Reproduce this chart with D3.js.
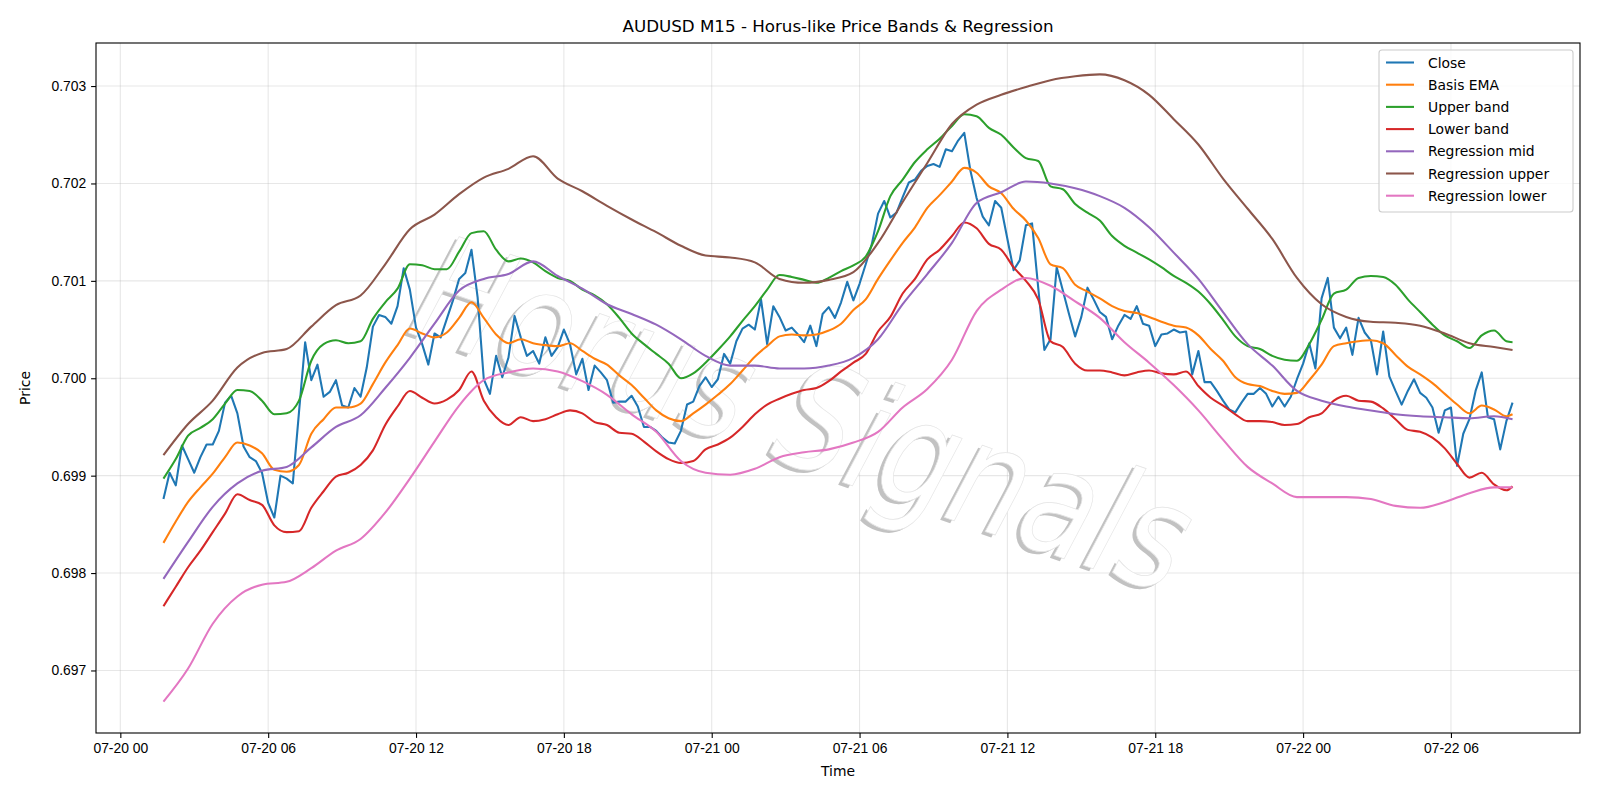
<!DOCTYPE html>
<meta charset="utf-8">
<style>
body { margin: 0; background: #fff; }
svg { font-family: "DejaVu Sans", sans-serif; }
.axis text { font-size: 13.9px; fill: #000; }
.axis line { stroke: #000; stroke-width: 1.1; }
.grid line { stroke: #b0b0b0; stroke-opacity: 0.3; stroke-width: 1.1; }
.series { fill: none; stroke-width: 2.08; stroke-linejoin: round; }
.legend text { font-size: 13.9px; }
</style>
<svg width="1600" height="800"></svg>
<script src="https://d3js.org/d3.v7.min.js"></script>
<script>

// M15 bars, first bar 07-20 01:45
const startTime = new Date(2025, 6, 20, 1, 45);
const barMinutes = 15;

const close = [
	0.69876,0.69903,0.69890,0.69931,0.69917,0.69903,0.69919,0.69932,0.69932,0.69946,
	0.69975,0.69982,0.69964,0.69930,0.69919,0.69915,0.69903,0.69872,0.69857,0.69900,
	0.69897,0.69892,0.69965,0.70037,0.69998,0.70014,0.69981,0.69986,0.69998,0.69972,
	0.69970,0.69990,0.69981,0.70011,0.70053,0.70065,0.70063,0.70056,0.70074,0.70113,
	0.70091,0.70052,0.70035,0.70014,0.70046,0.70042,0.70061,0.70080,0.70102,0.70108,
	0.70132,0.70083,0.69999,0.69984,0.70023,0.70001,0.70021,0.70064,0.70042,0.70023,
	0.70028,0.70015,0.70042,0.70023,0.70032,0.70050,0.70035,0.70004,0.70020,0.69988,
	0.70013,0.70006,0.69998,0.69975,0.69976,0.69976,0.69982,0.69971,0.69950,0.69950,
	0.69946,0.69939,0.69934,0.69933,0.69946,0.69973,0.69976,0.69992,0.70001,0.69991,
	0.69999,0.70025,0.70015,0.70038,0.70051,0.70055,0.70050,0.70081,0.70035,0.70074,
	0.70063,0.70049,0.70052,0.70045,0.70037,0.70054,0.70033,0.70066,0.70073,0.70062,
	0.70078,0.70099,0.70080,0.70097,0.70117,0.70138,0.70169,0.70182,0.70165,0.70170,
	0.70186,0.70201,0.70204,0.70213,0.70218,0.70220,0.70217,0.70235,0.70233,0.70244,
	0.70252,0.70213,0.70185,0.70166,0.70157,0.70182,0.70175,0.70143,0.70111,0.70121,
	0.70157,0.70159,0.70093,0.70029,0.70040,0.70114,0.70090,0.70066,0.70043,0.70063,
	0.70093,0.70081,0.70068,0.70063,0.70040,0.70054,0.70065,0.70061,0.70074,0.70056,
	0.70054,0.70033,0.70045,0.70046,0.70050,0.70047,0.70048,0.70004,0.70028,0.69996,
	0.69996,0.69987,0.69977,0.69968,0.69965,0.69975,0.69984,0.69984,0.69990,0.69984,
	0.69971,0.69981,0.69971,0.69981,0.69999,0.70015,0.70036,0.70010,0.70082,0.70103,
	0.70052,0.70041,0.70052,0.70024,0.70062,0.70047,0.70039,0.70004,0.70048,0.70002,
	0.69987,0.69973,0.69987,0.69999,0.69985,0.69980,0.69970,0.69944,0.69967,0.69970,
	0.69910,0.69943,0.69958,0.69987,0.70006,0.69960,0.69958,0.69927,0.69956,0.69975
];

// band lines read every second bar, plus the last one
const bandBars = d3.range(0, 220, 2).concat([219]);

const basisEma = [
	0.69831,0.69853,0.69873,0.69888,0.69902,0.69919,0.69934,0.69931,0.69923,0.69906,
	0.69904,0.69911,0.69943,0.69958,0.69970,0.69970,0.69974,0.69994,0.70016,0.70034,
	0.70051,0.70046,0.70042,0.70047,0.70062,0.70078,0.70062,0.70045,0.70036,0.70040,
	0.70036,0.70034,0.70033,0.70036,0.70028,0.70020,0.70014,0.70003,0.69993,0.69980,
	0.69967,0.69959,0.69956,0.69964,0.69973,0.69983,0.69994,0.70008,0.70022,0.70033,
	0.70043,0.70045,0.70044,0.70045,0.70049,0.70056,0.70070,0.70081,0.70102,0.70121,
	0.70139,0.70155,0.70175,0.70188,0.70202,0.70216,0.70211,0.70197,0.70190,0.70174,
	0.70162,0.70144,0.70117,0.70113,0.70096,0.70089,0.70082,0.70074,0.70069,0.70067,
	0.70063,0.70058,0.70054,0.70052,0.70044,0.70030,0.70018,0.70001,0.69994,0.69992,
	0.69987,0.69984,0.69985,0.69998,0.70014,0.70033,0.70036,0.70038,0.70039,0.70036,
	0.70024,0.70012,0.70004,0.69995,0.69984,0.69973,0.69964,0.69972,0.69968,0.69961,
	0.69963
];

const upperBand = [
	0.69897,0.69917,0.69941,0.69949,0.69958,0.69974,0.69988,0.69987,0.69977,0.69963,
	0.69964,0.69977,0.70018,0.70035,0.70039,0.70036,0.70038,0.70061,0.70078,0.70092,
	0.70117,0.70116,0.70112,0.70112,0.70130,0.70149,0.70151,0.70132,0.70120,0.70123,
	0.70119,0.70110,0.70103,0.70100,0.70091,0.70085,0.70076,0.70062,0.70046,0.70035,
	0.70025,0.70015,0.70000,0.70005,0.70016,0.70029,0.70043,0.70059,0.70074,0.70091,
	0.70106,0.70104,0.70101,0.70098,0.70103,0.70110,0.70116,0.70125,0.70151,0.70187,
	0.70204,0.70222,0.70235,0.70246,0.70259,0.70271,0.70269,0.70257,0.70250,0.70237,
	0.70226,0.70223,0.70197,0.70194,0.70179,0.70170,0.70162,0.70146,0.70136,0.70129,
	0.70122,0.70114,0.70105,0.70098,0.70089,0.70076,0.70060,0.70043,0.70033,0.70030,
	0.70023,0.70019,0.70018,0.70035,0.70060,0.70087,0.70091,0.70103,0.70105,0.70104,
	0.70096,0.70081,0.70068,0.70055,0.70044,0.70038,0.70031,0.70044,0.70049,0.70038,
	0.70037
];

const lowerBand = [
	0.69766,0.69786,0.69806,0.69823,0.69842,0.69861,0.69881,0.69875,0.69870,0.69849,
	0.69842,0.69843,0.69867,0.69884,0.69899,0.69903,0.69911,0.69926,0.69952,0.69971,
	0.69987,0.69980,0.69974,0.69978,0.69988,0.70007,0.69977,0.69960,0.69952,0.69960,
	0.69956,0.69958,0.69963,0.69967,0.69964,0.69955,0.69952,0.69944,0.69943,0.69935,
	0.69925,0.69917,0.69913,0.69915,0.69927,0.69932,0.69939,0.69950,0.69963,0.69973,
	0.69979,0.69984,0.69988,0.69990,0.69997,0.70007,0.70016,0.70025,0.70048,0.70063,
	0.70087,0.70102,0.70122,0.70132,0.70146,0.70160,0.70154,0.70138,0.70132,0.70114,
	0.70100,0.70081,0.70038,0.70032,0.70015,0.70008,0.70008,0.70006,0.70003,0.70006,
	0.70008,0.70005,0.70004,0.70007,0.69992,0.69980,0.69972,0.69963,0.69956,0.69956,
	0.69955,0.69952,0.69953,0.69960,0.69964,0.69977,0.69982,0.69977,0.69976,0.69969,
	0.69958,0.69947,0.69945,0.69939,0.69928,0.69912,0.69898,0.69903,0.69891,0.69885,
	0.69889
];

// regression channel read every hour, plus the last bar
const regBars = d3.range(0, 220, 4).concat([219]);

const regMid = [
	0.69794,0.69832,0.69868,0.69892,0.69905,0.69909,0.69929,0.69950,0.69962,0.69990,
	0.70021,0.70056,0.70090,0.70102,0.70107,0.70120,0.70105,0.70092,0.70076,0.70066,
	0.70055,0.70040,0.70023,0.70013,0.70013,0.70010,0.70010,0.70013,0.70021,0.70040,
	0.70076,0.70107,0.70139,0.70180,0.70191,0.70202,0.70200,0.70195,0.70187,0.70175,
	0.70155,0.70129,0.70102,0.70068,0.70035,0.70013,0.69987,0.69977,0.69971,0.69967,
	0.69963,0.69961,0.69960,0.69959,0.69961,
	0.69958
];

const regUpper = [
	0.69921,0.69953,0.69977,0.70011,0.70026,0.70030,0.70053,0.70075,0.70085,0.70117,
	0.70153,0.70168,0.70189,0.70206,0.70215,0.70228,0.70205,0.70192,0.70177,0.70163,
	0.70150,0.70136,0.70126,0.70124,0.70119,0.70102,0.70098,0.70101,0.70109,0.70139,
	0.70181,0.70221,0.70261,0.70281,0.70291,0.70299,0.70306,0.70310,0.70312,0.70306,
	0.70291,0.70266,0.70240,0.70205,0.70174,0.70143,0.70103,0.70076,0.70063,0.70058,
	0.70057,0.70054,0.70046,0.70036,0.70032,
	0.70029
];

const regLower = [
	0.69668,0.69702,0.69748,0.69776,0.69788,0.69791,0.69805,0.69823,0.69835,0.69862,
	0.69897,0.69935,0.69972,0.69998,0.70006,0.70010,0.70007,0.69997,0.69983,0.69963,
	0.69945,0.69915,0.69903,0.69901,0.69907,0.69919,0.69924,0.69927,0.69934,0.69945,
	0.69970,0.69989,0.70019,0.70069,0.70091,0.70103,0.70095,0.70079,0.70062,0.70037,
	0.70016,0.69993,0.69967,0.69937,0.69909,0.69892,0.69878,0.69878,0.69878,0.69876,
	0.69869,0.69867,0.69873,0.69882,0.69888,
	0.69888
];

const seriesNames = ["Close", "Basis EMA", "Upper band", "Lower band",
	"Regression mid", "Regression upper", "Regression lower"];
const seriesColors = ["#1f77b4", "#ff7f0e", "#2ca02c", "#d62728", "#9467bd", "#8c564b", "#e377c2"];
const yTicks = [0.697, 0.698, 0.699, 0.700, 0.701, 0.702, 0.703];

function barTime(i) {
	return new Date(startTime.getTime() + i * barMinutes * 60000);
}

let series = [
	{ bars: d3.range(close.length), values: close },
	{ bars: bandBars, values: basisEma },
	{ bars: bandBars, values: upperBand },
	{ bars: bandBars, values: lowerBand },
	{ bars: regBars, values: regMid },
	{ bars: regBars, values: regUpper },
	{ bars: regBars, values: regLower }
].map(function(s, i) {
	return {
		name: seriesNames[i],
		color: seriesColors[i],
		smooth: i > 0,
		points: s.bars.map(function(b, j) { return { t: barTime(b), v: s.values[j] }; })
	};
});

let plotLeft = 96, plotRight = 1580, plotTop = 43, plotBottom = 733;
let svg = d3.select("svg");

// matplotlib style 5% margins
let t0 = barTime(0), t1 = barTime(close.length - 1);
let tPad = (t1 - t0) * 0.05;
let x = d3.scaleTime()
	.domain([new Date(t0.getTime() - tPad), new Date(t1.getTime() + tPad)])
	.range([plotLeft, plotRight]);

let allValues = [].concat(close, basisEma, upperBand, lowerBand, regMid, regUpper, regLower);
let vMin = d3.min(allValues), vMax = d3.max(allValues);
let vPad = (vMax - vMin) * 0.05;
let y = d3.scaleLinear()
	.domain([vMin - vPad, vMax + vPad])
	.range([plotBottom, plotTop]);

let xTicks = x.ticks(d3.timeHour.every(6));

// grid
let grid = svg.append("g").attr("class", "grid");
grid.selectAll(".gx").data(xTicks).enter().append("line")
	.attr("x1", d => x(d)).attr("x2", d => x(d))
	.attr("y1", plotTop).attr("y2", plotBottom);
grid.selectAll(".gy").data(yTicks).enter().append("line")
	.attr("x1", plotLeft).attr("x2", plotRight)
	.attr("y1", d => y(d)).attr("y2", d => y(d));

// watermark: tall white letters with a grey drop shadow
let wm = svg.append("g")
	.attr("transform", "translate(800,425) rotate(19) scale(1,1.25)")
	.style("font-size", "118px")
	.style("font-style", "italic");
wm.append("text")
	.attr("x", -3).attr("y", 3)
	.attr("text-anchor", "middle").attr("dominant-baseline", "middle")
	.attr("fill", "#c2c2c2")
	.text("Horus Signals");
wm.append("text")
	.attr("text-anchor", "middle").attr("dominant-baseline", "middle")
	.attr("fill", "#fff").attr("stroke", "#e4e4e4").attr("stroke-width", 0.6)
	.text("Horus Signals");

// lines
let line = d3.line()
	.x(d => x(d.t))
	.y(d => y(d.v));
let smoothLine = d3.line()
	.curve(d3.curveMonotoneX)
	.x(d => x(d.t))
	.y(d => y(d.v));

svg.selectAll(".series").data(series).enter().append("path")
	.attr("class", "series")
	.attr("stroke", d => d.color)
	.attr("d", d => d.smooth ? smoothLine(d.points) : line(d.points));

// axes
let xAxis = svg.append("g")
	.attr("class", "axis")
	.attr("transform", "translate(0," + plotBottom + ")")
	.call(d3.axisBottom(x).tickValues(xTicks).tickFormat(d3.timeFormat("%m-%d %H"))
		.tickSize(4.9).tickPadding(4.9).tickSizeOuter(0));
xAxis.select(".domain").remove();

let yAxis = svg.append("g")
	.attr("class", "axis")
	.attr("transform", "translate(" + plotLeft + ",0)")
	.call(d3.axisLeft(y).tickValues(yTicks).tickFormat(d3.format(".3f"))
		.tickSize(4.9).tickPadding(4.9).tickSizeOuter(0));
yAxis.select(".domain").remove();

svg.append("rect")
	.attr("x", plotLeft).attr("y", plotTop)
	.attr("width", plotRight - plotLeft).attr("height", plotBottom - plotTop)
	.attr("fill", "none").attr("stroke", "#000").attr("stroke-width", 1.1);

// labels
svg.append("text")
	.attr("x", (plotLeft + plotRight) / 2).attr("y", 32)
	.attr("text-anchor", "middle")
	.style("font-size", "16.7px")
	.text("AUDUSD M15 - Horus-like Price Bands & Regression");

svg.append("text")
	.attr("x", (plotLeft + plotRight) / 2).attr("y", 776)
	.attr("text-anchor", "middle")
	.style("font-size", "13.9px")
	.text("Time");

svg.append("text")
	.attr("transform", "translate(30," + ((plotTop + plotBottom) / 2) + ") rotate(-90)")
	.attr("text-anchor", "middle")
	.style("font-size", "13.9px")
	.text("Price");

// legend
let legend = svg.append("g").attr("class", "legend");
legend.append("rect")
	.attr("x", 1379).attr("y", 50)
	.attr("width", 194).attr("height", 162)
	.attr("rx", 3)
	.attr("fill", "#fff").attr("fill-opacity", 0.8)
	.attr("stroke", "#cccccc").attr("stroke-width", 1.1);

let rows = legend.selectAll(".row").data(series).enter().append("g")
	.attr("transform", (d, i) => "translate(0," + (62.5 + i * 22.2) + ")");
rows.append("line")
	.attr("x1", 1386).attr("x2", 1414)
	.attr("stroke", d => d.color).attr("stroke-width", 2.08);
rows.append("text")
	.attr("x", 1428).attr("dy", "0.36em")
	.text(d => d.name);

</script>
